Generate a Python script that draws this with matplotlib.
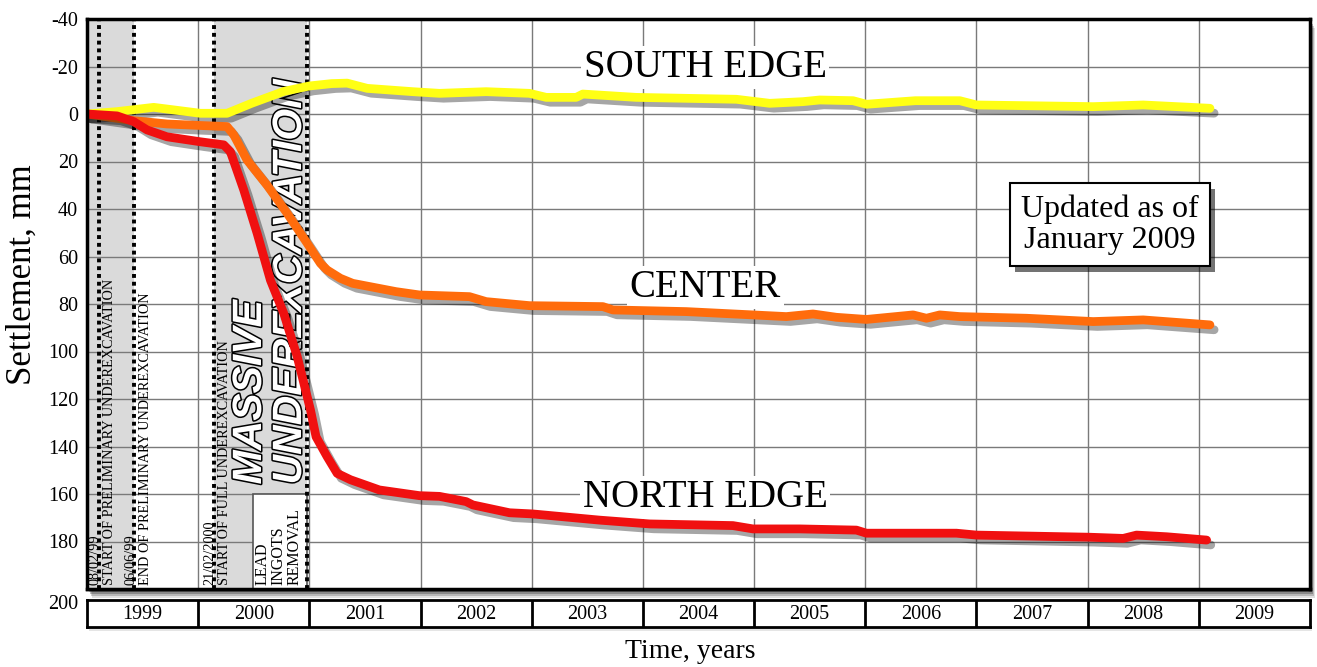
import matplotlib
matplotlib.use("Agg")
import matplotlib.pyplot as plt
import matplotlib.patheffects as pe
from matplotlib.patches import Rectangle

# ---------------- data ----------------
south_t = [1999.00, 1999.27, 1999.60, 2000.02, 2000.26, 2000.48, 2000.77, 2001.00, 2001.20,
           2001.34, 2001.52, 2001.93, 2002.17, 2002.59, 2002.98, 2003.13, 2003.40, 2003.46,
           2003.94, 2004.84, 2005.14, 2005.44, 2005.59, 2005.89, 2006.01, 2006.45, 2006.85,
           2007.00, 2008.05, 2008.50, 2009.10]
south_v = [0, -1.0, -2.8, -0.3, -0.3, -4.5, -9.5, -11.8, -12.8,
           -13.0, -10.8, -9.4, -8.7, -9.4, -8.7, -7.0, -7.0, -8.4,
           -7.0, -6.2, -4.5, -5.2, -5.9, -5.6, -4.1, -5.6, -5.6,
           -3.8, -3.1, -3.8, -2.4]

center_t = [1999.00, 1999.42, 1999.72, 2000.00, 2000.26, 2000.32, 2000.44, 2000.62, 2000.80,
            2000.98, 2001.10, 2001.16, 2001.28, 2001.39, 2001.78, 2001.99, 2002.44, 2002.59,
            2002.98, 2003.64, 2003.73, 2004.39, 2004.99, 2005.29, 2005.53, 2005.74, 2006.01,
            2006.43, 2006.55, 2006.67, 2006.85, 2007.45, 2008.05, 2008.50, 2009.10]
center_v = [0, 2.8, 4.2, 4.8, 5.3, 8.8, 19.4, 30.0, 41.8,
            54.4, 62.9, 65.7, 69.2, 71.3, 74.8, 76.2, 76.9, 79.0,
            80.7, 81.1, 82.5, 83.2, 84.6, 85.3, 84.2, 85.6, 86.5,
            84.6, 86.0, 84.6, 85.3, 86.0, 87.4, 86.7, 88.8]

north_t = [1999.00, 1999.27, 1999.42, 1999.54, 1999.72, 2000.02, 2000.23, 2000.29, 2000.41,
           2000.53, 2000.65, 2000.77, 2000.89, 2001.01, 2001.06, 2001.16, 2001.25, 2001.37,
           2001.63, 2001.99, 2002.17, 2002.41, 2002.47, 2002.80, 2003.01, 2003.61, 2004.06,
           2004.81, 2004.99, 2005.41, 2005.92, 2006.01, 2006.82, 2007.00, 2008.02, 2008.32,
           2008.44, 2008.71, 2009.07]
north_v = [0, 0.8, 3.2, 6.7, 9.6, 11.7, 13.0, 15.9, 32.0,
           50.2, 70.0, 84.0, 102.0, 124.6, 135.9, 144.3, 151.3, 154.0,
           158.3, 160.7, 161.0, 163.2, 164.6, 167.9, 168.4, 171.0, 172.6,
           173.3, 174.7, 174.7, 175.2, 176.5, 176.5, 177.3, 178.2, 178.7,
           177.3, 178.0, 179.4]

series_names = ["SOUTH EDGE", "CENTER", "NORTH EDGE"]
series_colors = ["#ffff14", "#ff6c0c", "#f01010"]

years = [1999, 2000, 2001, 2002, 2003, 2004, 2005, 2006, 2007, 2008, 2009]
year_labels = [str(y) for y in years]
yticks = [-40, -20, 0, 20, 40, 60, 80, 100, 120, 140, 160, 180]

event_dates = [1999.104, 1999.427, 2000.139, 2000.98]
event_labels = ["08/02/99\nSTART OF PRELIMINARY UNDEREXCAVATION",
                "06/06/99\nEND OF PRELIMINARY UNDEREXCAVATION",
                "21/02/2000\nSTART OF FULL UNDEREXCAVATION"]
shaded_spans = [(1999.0, 1999.427), (2000.139, 2000.98)]
lead_start, lead_end, lead_top = 2000.49, 2000.98, 160

# ---------------- figure ----------------
W, H = 1317, 667
fig = plt.figure(figsize=(W / 100, H / 100), dpi=100)
fx = lambda px: px / W
fy = lambda py: 1 - py / H

SERIF = "Liberation Serif"
L, R, T, B = 87, 1310, 19, 589

# shadow of the plot frame
for off, a in [(9, 0.12), (7, 0.18), (5, 0.25), (3, 0.35)]:
    fig.patches.append(Rectangle((fx(L + off * 0.6), fy(B + off)), (R - L) / W, (B - T) / H,
                                 transform=fig.transFigure, color="black", alpha=a,
                                 lw=0, zorder=-2))

ax = fig.add_axes([fx(L), fy(B), (R - L) / W, (B - T) / H])
ax.set_facecolor("white")
ax.set_xlim(years[0], years[-1] + 1)
ax.set_ylim(200, -40)
ax.set_yticks(yticks)
ax.set_yticklabels([str(v) for v in yticks], fontfamily=SERIF, fontsize=14.5)
ax.set_xticks(years[1:])
ax.tick_params(axis="x", length=0, labelbottom=False)
ax.tick_params(axis="y", length=0, pad=6.5)
ax.set_axisbelow(True)
ax.grid(True, color="#7a7a7a", lw=1.0)
for s in ax.spines.values():
    s.set_linewidth(2.5)
    s.set_zorder(10)

ax.annotate("200", xy=(0, 200), xycoords=ax.get_yaxis_transform(), xytext=(-6.5, -11.5),
            textcoords="offset points", ha="right", va="center",
            fontfamily=SERIF, fontsize=14.5)

# shaded periods
for a, b in shaded_spans:
    ax.axvspan(a, b, color="#dadada", lw=0, zorder=0.2)
ax.add_patch(Rectangle((lead_start, lead_top), lead_end - lead_start, 200 - lead_top,
                       facecolor="white", edgecolor="#555555", lw=1.2, zorder=0.7))

# event lines
for d in event_dates:
    ax.axvline(d, color="black", lw=2.8, ls=(0, (1, 1)), zorder=3)

for d, lab in zip(event_dates[:3], event_labels):
    ax.annotate(lab, xy=(d, 200), xytext=(2.5, 3), textcoords="offset points",
                rotation=90, ha="center", va="bottom", multialignment="left",
                fontfamily=SERIF, fontsize=10.3, linespacing=1.15, zorder=4)

ax.text((lead_start + lead_end) / 2 - 0.01, 198.5, "LEAD\nINGOTS\nREMOVAL", rotation=90,
        ha="center", va="bottom", multialignment="left", fontfamily=SERIF,
        fontsize=11.5, linespacing=1.0, zorder=4)

txt_fx = [pe.Stroke(linewidth=2.2, foreground="black"), pe.Normal()]
ax.text(2000.466, 156, "MASSIVE", rotation=90, ha="center", va="bottom",
        fontfamily="Liberation Sans", fontweight="bold", fontstyle="italic",
        fontsize=29.5, color="white", path_effects=txt_fx, zorder=4)
ax.text(2000.826, 156, "UNDEREXCAVATION", rotation=90, ha="center", va="bottom",
        fontfamily="Liberation Sans", fontweight="bold", fontstyle="italic",
        fontsize=29.5, color="white", path_effects=txt_fx, zorder=4)

# curves
for t, v, c in [(south_t, south_v, series_colors[0]),
                (center_t, center_v, series_colors[1]),
                (north_t, north_v, series_colors[2])]:
    ax.plot(t, v, color=c, lw=6.3, solid_capstyle="round", solid_joinstyle="round",
            path_effects=[pe.SimpleLineShadow(offset=(3, -3.5), shadow_color="black", alpha=0.35),
                          pe.Normal()], zorder=5)

# series labels
label_pos = [(2004.56, -15.6), (2004.56, 77), (2004.56, 165.5)]
for name, (x, y) in zip(series_names, label_pos):
    ax.text(x, y, name, ha="center", va="baseline", fontfamily=SERIF, fontsize=28,
            bbox=dict(facecolor="white", edgecolor="none", pad=2), zorder=4)

upd = ax.text(2008.2, 46.7, "Updated as of\nJanuary 2009", ha="center", va="center",
              fontfamily=SERIF, fontsize=23, linespacing=1.1, zorder=6,
              bbox=dict(boxstyle="square,pad=0.35", facecolor="white", edgecolor="black", lw=1.5))
upd.get_bbox_patch().set_path_effects([pe.withSimplePatchShadow(offset=(4, -4), shadow_rgbFace="black", alpha=0.55)])

# year bar
yb_top, yb_bot = 600, 627
for off, a in [(4, 0.1), (2, 0.18)]:
    fig.patches.append(Rectangle((fx(L + off * 0.6), fy(yb_bot + off)), (R - L) / W, (yb_bot - yb_top) / H,
                                 transform=fig.transFigure, color="black", alpha=a, lw=0, zorder=-2))
ax2 = fig.add_axes([fx(L), fy(yb_bot), (R - L) / W, (yb_bot - yb_top) / H])
ax2.set_facecolor("white")
ax2.set_xlim(years[0], years[-1] + 1)
ax2.set_ylim(0, 1)
ax2.set_xticks([])
ax2.set_yticks([])
for s in ax2.spines.values():
    s.set_linewidth(2)
for y in years[1:]:
    ax2.axvline(y, color="black", lw=2)
for y, lab in zip(years, year_labels):
    ax2.text(y + 0.5, 0.45, lab, ha="center", va="center", fontfamily=SERIF, fontsize=14.5)

fig.text(fx(22), fy(275), "Settlement, mm", rotation=90, ha="center", va="center",
         fontfamily=SERIF, fontsize=25)
fig.text(fx(690), fy(652), "Time, years", ha="center", va="center",
         fontfamily=SERIF, fontsize=20)

fig.savefig("out.png", dpi=100)
